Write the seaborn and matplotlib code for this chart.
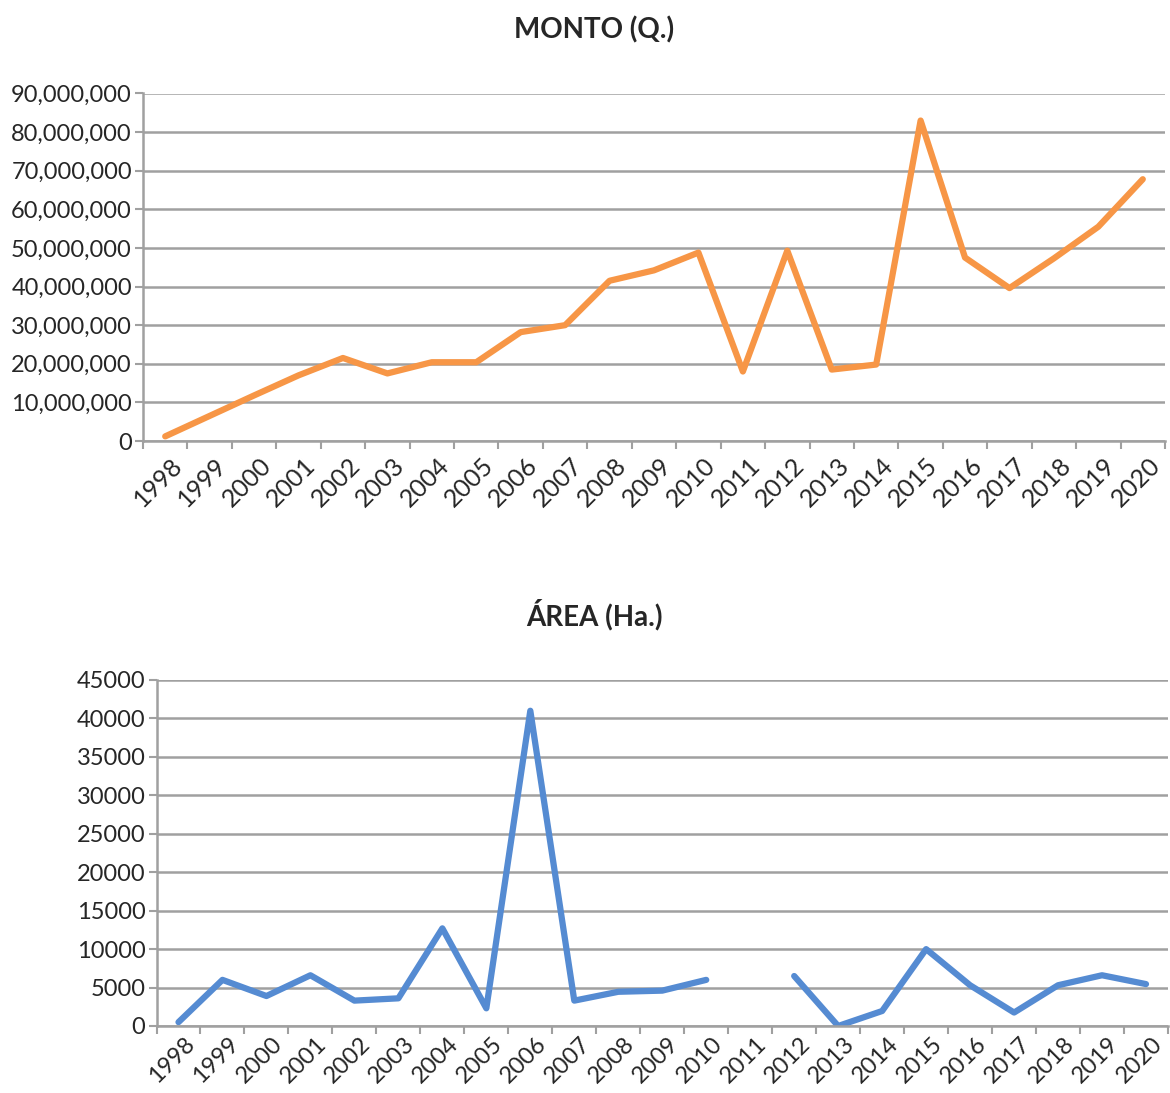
import numpy as np
import pandas as pd
import matplotlib
matplotlib.use("Agg")
import matplotlib.pyplot as plt
import seaborn as sns
from matplotlib.ticker import FuncFormatter, MultipleLocator, FixedLocator

sns.set_theme(style="white")
plt.rcParams['font.family'] = ['Lato', 'DejaVu Sans']

years = [str(y) for y in range(1998, 2021)]
monto = [1.2e6, 6.5e6, 11.8e6, 17.0e6, 21.5e6, 17.5e6, 20.4e6, 20.4e6, 28.2e6, 30.0e6,
         41.5e6, 44.2e6, 48.8e6, 18.0e6, 49.3e6, 18.5e6, 19.8e6, 83.0e6, 47.5e6, 39.6e6,
         47.3e6, 55.5e6, 67.8e6]
area = [500, 6000, 3900, 6600, 3300, 3600, 12700, 2300, 41000, 3300,
        4450, 4600, 6000, np.nan, 6500, 0, 1950, 10000, 5300, 1750,
        5300, 6600, 5450]

title_top = "MONTO (Q.)"
title_bottom = "ÁREA (Ha.)"
orange = "#F79646"
blue = "#558BD2"
grid_c = "#A0A0A0"

fig = plt.figure(figsize=(11.7, 10.93), dpi=100)
ax1 = fig.add_axes([143/1170, 1-441/1093, (1165-143)/1170, (441-93.5)/1093])
ax2 = fig.add_axes([156.5/1170, 1-1026/1093, (1168-156.5)/1170, (1026-680)/1093])


def segments(vals):
    seg, out = 0, []
    for v in vals:
        if v is None or (isinstance(v, float) and np.isnan(v)):
            seg += 1
        out.append(seg)
    return out


def draw(ax, vals, color, ymax, ystep, fmt, title, title_y, xfs, xpad):
    df = pd.DataFrame({"x": np.arange(len(years)), "y": vals})
    df["seg"] = segments(vals)
    df = df.dropna()
    sns.lineplot(data=df, x="x", y="y", units="seg", estimator=None, ax=ax,
                 color=color, linewidth=4.5, sort=False, legend=False)
    ax.set_xlim(-0.5, len(years) - 0.5)
    ax.set_ylim(0, ymax)
    ax.yaxis.set_major_locator(MultipleLocator(ystep))
    ax.yaxis.set_major_formatter(FuncFormatter(fmt))
    ax.grid(axis="y", color=grid_c, linewidth=1.8)
    ax.set_axisbelow(True)
    ax.set_xticks(np.arange(len(years)) + 0.12)
    ax.set_xticklabels(years, rotation=45, ha="right", rotation_mode="anchor", fontsize=xfs)
    ax.xaxis.set_minor_locator(FixedLocator(np.arange(-0.5, len(years), 1.0)))
    ax.tick_params(axis="x", which="major", length=0, pad=xpad)
    ax.tick_params(axis="x", which="minor", length=6, width=1.5, color=grid_c, direction="out", bottom=True)
    ax.tick_params(axis="y", which="major", length=6, width=1.5, color=grid_c, direction="out",
                   left=True, labelsize=17, pad=2)
    for s in ["top", "right"]:
        ax.spines[s].set_visible(False)
    for s in ["left", "bottom"]:
        ax.spines[s].set_color(grid_c)
        ax.spines[s].set_linewidth(1.8)
    ax.set_xlabel("")
    ax.set_ylabel("")
    fig.text(0.508, title_y, title, ha="center", va="center", fontsize=20, fontweight="bold")


draw(ax1, monto, orange, 90e6, 10e6, lambda v, p: f"{v:,.0f}", title_top, 1-30/1093, 18, 9)
draw(ax2, area, blue, 45000, 5000, lambda v, p: f"{v:.0f}", title_bottom, 1-615/1093, 17, 5)

fig.savefig("out.png", dpi=100, facecolor="white")
